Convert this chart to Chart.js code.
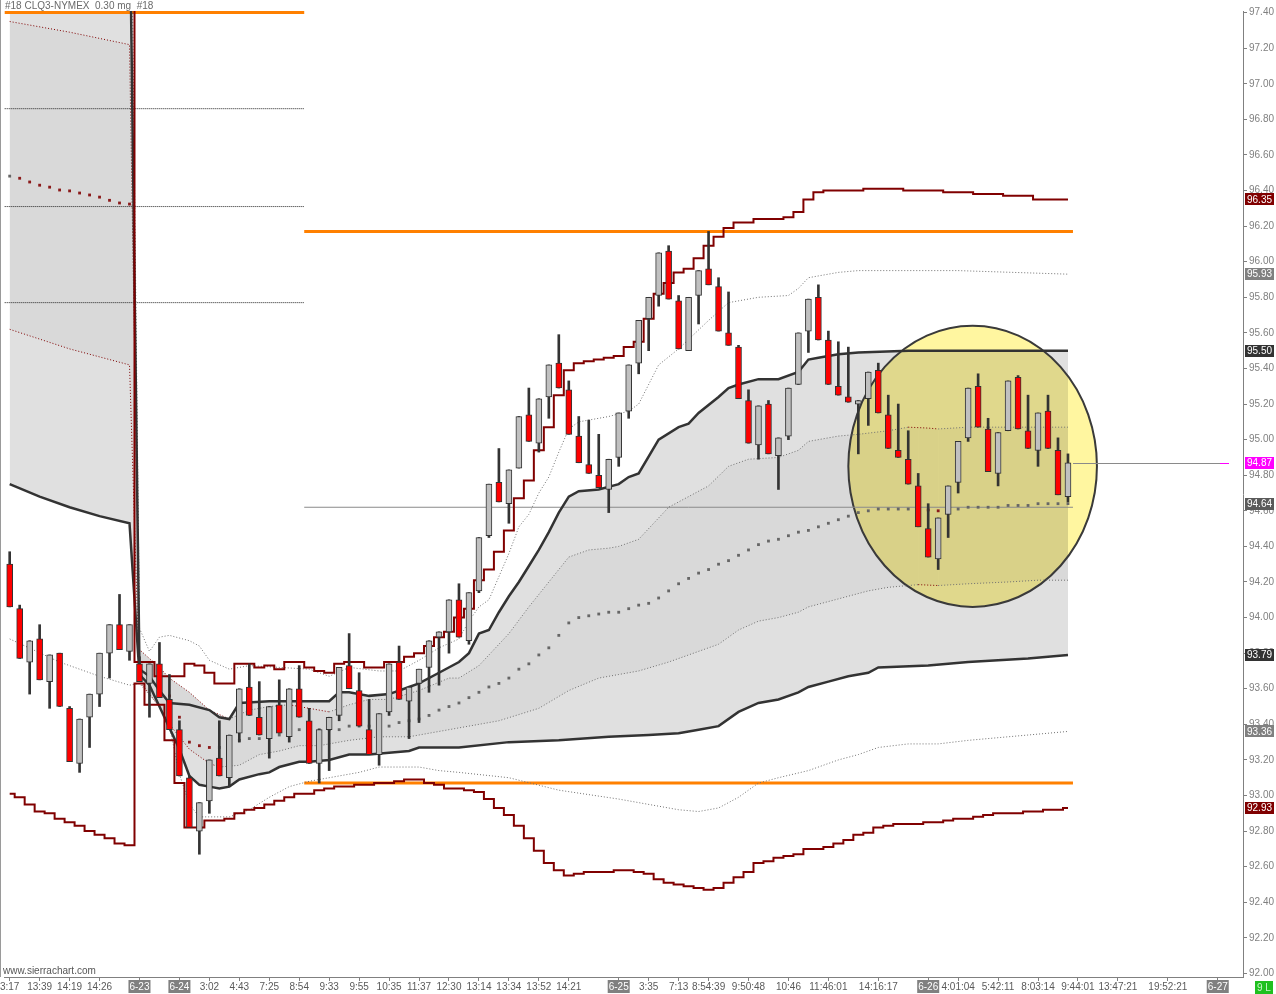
<!DOCTYPE html>
<html>
<head>
<meta charset="utf-8">
<script src="https://cdn.jsdelivr.net/npm/chart.js@4.4.1/dist/chart.umd.min.js"></script>
<style>
  html, body { margin: 0; padding: 0; background: #fff; }
  #wrap { width: 1276px; height: 994px; }
</style>
</head>
<body>
<div id="wrap"><canvas id="chart" width="1276" height="994"></canvas></div>
<script>
// CLQ3 0.30 min bars, index = bar number
const opens = [
  94.30, 94.05, 93.75, 93.88, 93.64, 93.80, 93.49, 93.18, 93.44, 93.57,
  93.80, 93.96, 93.81, 93.74, 93.63, 93.74, 93.54, 93.37, 93.10, 92.80,
  92.97, 93.21, 93.10, 93.35, 93.61, 93.44, 93.32, 93.51, 93.33, 93.60,
  93.42, 93.18, 93.37, 93.45, 93.73, 93.59, 93.37, 93.23, 93.47, 93.75,
  93.53, 93.63, 93.72, 93.89, 93.92, 94.10, 93.87, 94.15, 94.46, 94.76,
  94.64, 94.84, 95.14, 94.98, 95.24, 95.43, 95.28, 95.02, 94.86, 94.80,
  94.72, 94.90, 95.16, 95.43, 95.68, 95.81, 96.06, 95.78, 95.50, 95.81,
  95.96, 95.86, 95.60, 95.52, 95.22, 94.97, 95.20, 94.91, 95.02, 95.31,
  95.61, 95.80, 95.56, 95.30, 95.24, 95.20, 95.23, 95.39, 95.14, 94.94,
  94.89, 94.74, 94.50, 94.33, 94.58, 94.76, 95.01, 95.30, 95.06, 94.81,
  95.05, 95.35, 95.05, 94.94, 95.16, 94.94, 94.68
];
const highs = [
  94.37, 94.07, 93.87, 93.96, 93.79, 93.80, 93.50, 93.43, 93.57, 93.80,
  93.96, 94.13, 93.96, 93.78, 93.74, 93.86, 93.68, 93.42, 93.11, 92.96,
  93.20, 93.42, 93.34, 93.60, 93.74, 93.64, 93.50, 93.65, 93.60, 93.73,
  93.49, 93.37, 93.44, 93.72, 93.91, 93.69, 93.54, 93.46, 93.74, 93.84,
  93.61, 93.71, 93.87, 93.92, 94.10, 94.19, 94.14, 94.45, 94.75, 94.95,
  94.83, 95.13, 95.29, 95.23, 95.42, 95.59, 95.33, 95.13, 95.11, 95.03,
  94.89, 95.15, 95.42, 95.67, 95.80, 96.05, 96.09, 95.81, 95.80, 95.95,
  96.17, 95.91, 95.83, 95.53, 95.28, 95.19, 95.22, 95.01, 95.29, 95.60,
  95.79, 95.87, 95.61, 95.55, 95.52, 95.22, 95.38, 95.43, 95.25, 95.20,
  95.05, 94.81, 94.64, 94.56, 94.74, 94.99, 95.29, 95.37, 95.12, 95.04,
  95.33, 95.36, 95.25, 95.15, 95.25, 95.01, 94.92
];
const lows = [
  94.06, 93.77, 93.57, 93.65, 93.49, 93.50, 93.19, 93.13, 93.27, 93.50,
  93.66, 93.82, 93.76, 93.64, 93.44, 93.55, 93.37, 93.11, 92.82, 92.67,
  92.90, 93.11, 93.05, 93.30, 93.45, 93.34, 93.21, 93.35, 93.30, 93.44,
  93.18, 93.07, 93.14, 93.42, 93.60, 93.39, 93.23, 93.17, 93.45, 93.54,
  93.32, 93.41, 93.58, 93.62, 93.80, 93.89, 93.85, 94.14, 94.45, 94.65,
  94.53, 94.84, 94.99, 94.93, 95.12, 95.29, 95.03, 94.87, 94.81, 94.73,
  94.59, 94.85, 95.12, 95.37, 95.50, 95.75, 95.79, 95.51, 95.50, 95.65,
  95.87, 95.61, 95.53, 95.23, 94.98, 94.89, 94.92, 94.72, 95.00, 95.31,
  95.49, 95.56, 95.31, 95.25, 95.21, 94.92, 95.08, 95.15, 94.95, 94.90,
  94.75, 94.51, 94.34, 94.27, 94.45, 94.70, 94.99, 95.07, 94.82, 94.74,
  95.05, 95.06, 94.95, 94.85, 94.95, 94.69, 94.65
];
const closes = [
  94.06, 93.77, 93.87, 93.65, 93.79, 93.50, 93.19, 93.43, 93.57, 93.80,
  93.96, 93.82, 93.96, 93.64, 93.74, 93.55, 93.37, 93.11, 92.82, 92.96,
  93.20, 93.11, 93.34, 93.60, 93.45, 93.34, 93.50, 93.35, 93.60, 93.44,
  93.18, 93.37, 93.44, 93.72, 93.60, 93.39, 93.23, 93.46, 93.74, 93.54,
  93.61, 93.71, 93.87, 93.92, 94.10, 93.89, 94.14, 94.45, 94.75, 94.65,
  94.83, 95.13, 94.99, 95.23, 95.42, 95.29, 95.03, 94.87, 94.81, 94.73,
  94.89, 95.15, 95.42, 95.67, 95.80, 96.05, 95.79, 95.51, 95.80, 95.95,
  95.87, 95.61, 95.53, 95.23, 94.98, 95.19, 94.92, 95.01, 95.29, 95.60,
  95.79, 95.56, 95.31, 95.25, 95.21, 95.22, 95.38, 95.15, 94.95, 94.90,
  94.75, 94.51, 94.34, 94.56, 94.74, 94.99, 95.29, 95.07, 94.82, 95.04,
  95.33, 95.06, 94.95, 95.15, 94.95, 94.69, 94.87
];

// session VWAP (dots)
const vwap = [
  96.481, 96.469, 96.448, 96.430, 96.419, 96.403, 96.398, 96.386, 96.375, 96.363,
  96.345, 96.330, 96.324, 93.70, 93.68, 93.64, 93.56, 93.44, 93.30, 93.28,
  93.27, 93.27, 93.29, 93.31, 93.32, 93.32, 93.33, 93.34, 93.36, 93.37,
  93.37, 93.37, 93.37, 93.37, 93.39, 93.39, 93.39, 93.39, 93.39, 93.41,
  93.42, 93.43, 93.45, 93.48, 93.50, 93.52, 93.55, 93.58, 93.61, 93.63,
  93.66, 93.71, 93.74, 93.79, 93.83, 93.90, 93.97, 94.00, 94.01, 94.02,
  94.03, 94.03, 94.05, 94.07, 94.08, 94.11, 94.15, 94.19, 94.22, 94.25,
  94.27, 94.30, 94.32, 94.35, 94.38, 94.41, 94.43, 94.44, 94.46, 94.48,
  94.49, 94.51, 94.53, 94.55, 94.57, 94.59, 94.60, 94.61, 94.61, 94.61,
  94.61, 94.61, 94.605, 94.60, 94.60, 94.61, 94.62, 94.62, 94.62, 94.62,
  94.63, 94.63, 94.63, 94.64, 94.64, 94.64, 94.64
];

// stepped high / low channel
const redUpper = [
  97.90, 97.90, 97.90, 97.90, 97.90, 97.90, 97.90, 97.90, 97.90, 97.90,
  97.90, 97.90, 97.90, 93.75, 93.75, 93.67, 93.67, 93.67, 93.74, 93.73,
  93.69, 93.63, 93.63, 93.74, 93.74, 93.72, 93.73, 93.71, 93.75, 93.75,
  93.72, 93.70, 93.69, 93.74, 93.75, 93.75, 93.72, 93.72, 93.75, 93.75,
  93.78, 93.80, 93.84, 93.89, 93.92, 94.00, 94.05, 94.21, 94.27, 94.37,
  94.49, 94.67, 94.77, 94.94, 95.07, 95.25, 95.39, 95.43, 95.44, 95.45,
  95.46, 95.47, 95.52, 95.55, 95.68, 95.82, 95.88, 95.94, 95.96, 96.02,
  96.09, 96.14, 96.19, 96.22, 96.22, 96.24, 96.24, 96.24, 96.25, 96.28,
  96.35, 96.39, 96.40, 96.40, 96.40, 96.40, 96.41, 96.41, 96.41, 96.41,
  96.40, 96.40, 96.40, 96.40, 96.39, 96.39, 96.39, 96.38, 96.38, 96.38,
  96.37, 96.37, 96.37, 96.35, 96.35, 96.35, 96.35
];
const redLower = [
  93.01, 92.99, 92.95, 92.91, 92.90, 92.87, 92.85, 92.83, 92.80, 92.78,
  92.76, 92.73, 92.72, 93.63, 93.51, 93.51, 93.31, 93.07, 92.82, 92.82,
  92.86, 92.86, 92.87, 92.90, 92.92, 92.93, 92.95, 92.97, 92.99, 93.01,
  93.01, 93.03, 93.04, 93.05, 93.05, 93.06, 93.06, 93.07, 93.07, 93.08,
  93.09, 93.09, 93.07, 93.06, 93.04, 93.04, 93.03, 93.02, 92.98, 92.93,
  92.89, 92.83, 92.76, 92.69, 92.62, 92.58, 92.55, 92.56, 92.57, 92.57,
  92.57, 92.58, 92.58, 92.57, 92.56, 92.53, 92.51, 92.50, 92.49, 92.48,
  92.47, 92.48, 92.51, 92.54, 92.57, 92.62, 92.63, 92.65, 92.66, 92.67,
  92.70, 92.70, 92.71, 92.73, 92.75, 92.78, 92.79, 92.82, 92.83, 92.84,
  92.84, 92.84, 92.85, 92.85, 92.86, 92.87, 92.87, 92.88, 92.89, 92.90,
  92.90, 92.90, 92.91, 92.91, 92.92, 92.92, 92.93
];

// VWAP bands, [bar, price]
const upperOuter = [[0, 99.0], [12, 99.0], [13, 93.94], [14, 93.81], [15, 93.89], [16, 93.90], [18, 93.87],
  [19, 93.84], [20, 93.76], [22, 93.71], [24, 93.73], [27, 93.72], [30, 93.71], [32, 93.67], [34, 93.72],
  [37, 93.70], [39, 93.70], [41, 93.76], [43, 93.83], [45, 93.88], [46, 93.98], [47, 94.06], [48, 94.10],
  [50, 94.36], [51, 94.51], [52, 94.58], [53, 94.70], [54, 94.79], [55, 94.93], [56, 95.06], [57, 95.10],
  [60, 95.13], [62, 95.16], [63, 95.20], [65, 95.42], [67, 95.51], [70, 95.67], [72, 95.77], [75, 95.80],
  [78, 95.81], [79, 95.85], [80, 95.91], [83, 95.94], [85, 95.95], [95, 95.95], [106, 95.93]];
const upperBand = [[0, 98.10], [12, 98.10], [13, 93.71], [14, 93.67], [15, 93.59], [16, 93.52], [18, 93.51],
  [20, 93.48], [21, 93.44], [22, 93.43], [23, 93.52], [26, 93.53], [29, 93.53], [32, 93.53], [33, 93.58],
  [34, 93.58], [36, 93.56], [38, 93.57], [40, 93.61], [41, 93.63], [43, 93.69], [45, 93.75], [46, 93.80],
  [47, 93.91], [48, 93.93], [49, 94.03], [50, 94.12], [51, 94.20], [52, 94.29], [53, 94.38], [54, 94.48],
  [55, 94.59], [56, 94.68], [57, 94.71], [59, 94.72], [61, 94.75], [62, 94.79], [63, 94.81], [65, 95.00],
  [67, 95.07], [68, 95.09], [69, 95.15], [71, 95.24], [72, 95.29], [73, 95.31], [75, 95.34], [77, 95.34],
  [79, 95.38], [80, 95.45], [81, 95.46], [83, 95.48], [85, 95.49], [90, 95.50], [106, 95.50]];
const upperInner = [[0, 97.35], [6, 97.29], [12, 97.22], [13, 93.82], [15, 93.72], [16, 93.66], [18, 93.58],
  [20, 93.48], [22, 93.43], [24, 93.48], [26, 93.50], [28, 93.51], [30, 93.49], [32, 93.47], [34, 93.51],
  [36, 93.54], [38, 93.54], [41, 93.59], [44, 93.66], [45, 93.66], [47, 93.73], [50, 93.91], [52, 94.06],
  [54, 94.20], [56, 94.34], [58, 94.38], [60, 94.39], [61, 94.40], [63, 94.44], [66, 94.62], [70, 94.74],
  [72, 94.85], [74, 94.89], [77, 94.90], [79, 94.94], [80, 94.99], [83, 95.02], [85, 95.03], [88, 95.05],
  [90, 95.07], [92, 95.065], [93, 95.06], [96, 95.07], [106, 95.07]];
const lowerInner = [[0, 95.62], [6, 95.51], [12, 95.42], [13, 93.64], [15, 93.50], [16, 93.40], [18, 93.26],
  [20, 93.18], [21, 93.16], [23, 93.17], [25, 93.23], [27, 93.25], [29, 93.28], [31, 93.28], [34, 93.31],
  [37, 93.33], [40, 93.33], [42, 93.35], [45, 93.38], [49, 93.42], [53, 93.49], [56, 93.59], [59, 93.66],
  [61, 93.68], [63, 93.70], [66, 93.75], [69, 93.81], [71, 93.85], [73, 93.93], [75, 93.98], [77, 94.00],
  [79, 94.03], [80, 94.06], [82, 94.09], [84, 94.12], [86, 94.15], [88, 94.17], [91, 94.185], [93, 94.18],
  [96, 94.19], [100, 94.20], [103, 94.21], [106, 94.21]];
const lowerBand = [[0, 94.75], [3, 94.68], [6, 94.62], [9, 94.57], [12, 94.53], [13, 93.68], [14, 93.62],
  [15, 93.50], [16, 93.38], [17, 93.26], [18, 93.11], [19, 93.06], [20, 93.05], [21, 93.04], [22, 93.05],
  [23, 93.09], [25, 93.12], [26, 93.13], [27, 93.16], [29, 93.19], [30, 93.19], [32, 93.20], [34, 93.23],
  [36, 93.23], [38, 93.24], [40, 93.25], [41, 93.27], [45, 93.27], [50, 93.30], [55, 93.31], [60, 93.33],
  [64, 93.34], [67, 93.35], [69, 93.37], [71, 93.39], [73, 93.47], [75, 93.52], [77, 93.54], [79, 93.58],
  [80, 93.61], [82, 93.64], [84, 93.67], [86, 93.69], [87, 93.72], [92, 93.73], [96, 93.75], [99, 93.76],
  [102, 93.77], [106, 93.79]];
const lowerOuter = [[0, 93.88], [5, 93.75], [9, 93.67], [12, 93.62], [13, 93.63], [15, 93.50], [16, 93.39],
  [17, 93.12], [18, 92.95], [19, 92.88], [22, 92.88], [24, 92.92], [26, 92.99], [28, 93.05], [30, 93.08],
  [33, 93.11], [35, 93.13], [37, 93.16], [41, 93.16], [43, 93.14], [45, 93.13], [50, 93.10], [55, 93.03],
  [61, 92.98], [67, 92.92], [69, 92.91], [71, 92.93], [73, 92.99], [75, 93.07], [77, 93.10], [80, 93.14],
  [83, 93.20], [85, 93.23], [87, 93.27], [90, 93.29], [93, 93.29], [96, 93.31], [100, 93.33], [104, 93.35],
  [106, 93.36]];

// horizontal levels: [price, fromBar, toBar]
const orangeLevels = [[97.40, -0.5, 29.5], [96.17, 29.5, 106.5], [93.07, 29.5, 106.5]];
const pivotLevels = [[96.86, -0.5, 29.5], [96.31, -0.5, 29.5], [95.77, -0.5, 29.5]];
const refLevel = [94.62, 29.5, 106.5];

// highlighted zone (drawn ellipse): bars and prices of its bounding box
const zone = { fromBar: 84.0, toBar: 108.9, top: 95.64, bottom: 94.06 };

const priceTicks = [92.00, 92.20, 92.40, 92.60, 92.80, 93.00, 93.20, 93.40, 93.60, 93.80, 94.00, 94.20,
  94.40, 94.60, 94.80, 95.00, 95.20, 95.40, 95.60, 95.80, 96.00, 96.20, 96.40, 96.60, 96.80, 97.00, 97.20, 97.40];
const xTickBars = [0, 3, 6, 9, 13, 17, 20, 23, 26, 29, 32, 35, 38, 41, 44, 47, 50, 53, 56, 61, 64, 67, 70,
  74, 78, 82, 87, 92, 95, 99, 103, 107, 111, 116, 121];
const xTickLabels = ["3:17", "13:39", "14:19", "14:26", "6-23", "6-24", "3:02", "4:43", "7:25", "8:54", "9:33",
  "9:55", "10:35", "11:37", "12:30", "13:14", "13:34", "13:52", "14:21", "6-25", "3:35", "7:13", "8:54:39",
  "9:50:48", "10:46", "11:46:01", "14:16:17", "6-26", "4:01:04", "5:42:11", "8:03:14", "9:44:01", "13:47:21",
  "19:52:21", "6-27"];

const DARK = "#333333", DARK_RED = "#800000", DOT_GREY = "#707070";
const FONT = "'Liberation Sans Narrow', 'Liberation Sans', Arial, sans-serif";
Chart.defaults.font.family = FONT;
Chart.defaults.font.size = 10;

const bars = opens.map((_, i) => i);
const pts = (pairs) => pairs.map(([x, y]) => ({ x, y }));
const full = (vals) => vals.map((y, i) => ({ x: i, y }));
const slopeColor = (c) => (c.p1.parsed.y < c.p0.parsed.y ? DARK_RED : DOT_GREY);
const isDate = (s) => /^\d-\d\d$/.test(s);

const datasets = [];
function add(ds) {
	datasets.push(Object.assign({ type: "line", pointRadius: 0, fill: false }, ds));
	return datasets.length - 1;
}

// band lines
const iLower = add({ data: pts(lowerBand), borderColor: DARK, borderWidth: 2.5, order: 7 });
const iLowerIn = add({ data: pts(lowerInner), borderColor: DOT_GREY, borderWidth: 1, borderDash: [1, 2], segment: { borderColor: slopeColor }, order: 8 });
add({ data: pts(upperBand), borderColor: DARK, borderWidth: 2.5, order: 7 });
add({ data: pts(upperInner), borderColor: DOT_GREY, borderWidth: 1, borderDash: [1, 2], segment: { borderColor: slopeColor }, order: 8 });
add({ data: pts(upperOuter), borderColor: DOT_GREY, borderWidth: 1, borderDash: [1, 2], order: 8 });
add({ data: pts(lowerOuter), borderColor: DOT_GREY, borderWidth: 1, borderDash: [1, 2], order: 8 });

// band fills (drawn first)
add({ data: pts(upperBand), borderWidth: 0, fill: { target: iLower, above: "#e0e0e0", below: "#e0e0e0" }, order: 31 });
add({ data: pts(upperInner), borderWidth: 0, fill: { target: iLowerIn, above: "#d9d9d9", below: "#d9d9d9" }, order: 30 });

// levels
orangeLevels.forEach(([p, a, b]) => add({ data: [{ x: a, y: p }, { x: b, y: p }], borderColor: "#ff8000", borderWidth: 3, order: 9 }));
pivotLevels.forEach(([p, a, b]) => add({ data: [{ x: a, y: p }, { x: b, y: p }], borderColor: "#222", borderWidth: 1, borderDash: [1, 1], order: 9 }));
add({ data: [{ x: refLevel[1], y: refLevel[0] }, { x: refLevel[2], y: refLevel[0] }], borderColor: "#8a8a8a", borderWidth: 1, order: 9 });

// stepped channel
add({ data: full(redUpper), stepped: "middle", borderColor: DARK_RED, borderWidth: 2, order: 6 });
add({ data: full(redLower), stepped: "middle", borderColor: DARK_RED, borderWidth: 2, order: 6 });

// vwap dots
add({
	data: full(vwap), showLine: false, pointStyle: "rect", pointRadius: 2, pointBorderWidth: 0,
	pointBackgroundColor: vwap.map((v, i) => (i > 0 && v < vwap[i - 1] ? "#8b1a1a" : "#666666")), order: 3,
});

// candles
add({ type: "bar", data: bars.map((i) => ({ x: i, y: [lows[i], highs[i]] })), backgroundColor: DARK, borderWidth: 0, barThickness: 2, grouped: false, order: 2 });
add({
	type: "bar", data: bars.map((i) => ({ x: i, y: [opens[i], closes[i]] })),
	backgroundColor: bars.map((i) => (closes[i] >= opens[i] ? "#c0c0c0" : "#ff0000")),
	borderColor: DARK, borderWidth: 1, borderSkipped: false, barThickness: 6, minBarLength: 2, grouped: false, order: 1,
});

const decor = {
	id: "decor",
	beforeDatasetsDraw(chart) { chart.$zoneDone = false; },
	beforeDatasetDraw(chart, args) {
		if (chart.$zoneDone) return;
		if ((chart.data.datasets[args.index].order || 0) >= 30) return;
		chart.$zoneDone = true;
		const { ctx, scales: { x, y } } = chart;
		const x1 = x.getPixelForValue(zone.fromBar), x2 = x.getPixelForValue(zone.toBar);
		const y1 = y.getPixelForValue(zone.top), y2 = y.getPixelForValue(zone.bottom);
		ctx.save();
		ctx.beginPath();
		ctx.ellipse((x1 + x2) / 2, (y1 + y2) / 2, (x2 - x1) / 2, (y2 - y1) / 2, 0, 0, Math.PI * 2);
		ctx.globalCompositeOperation = "multiply";
		ctx.fillStyle = "rgb(255, 246, 160)";
		ctx.fill();
		ctx.globalCompositeOperation = "source-over";
		ctx.lineWidth = 2;
		ctx.strokeStyle = "#3a3a3a";
		ctx.stroke();
		ctx.restore();
	},
	afterDraw(chart) {
		const { ctx, chartArea: ca, scales: { x, y } } = chart;
		ctx.save();
		// left border
		ctx.fillStyle = "#9a9a9a";
		ctx.fillRect(0, 0, 1, ca.bottom);
		// last price line
		const last = closes[closes.length - 1];
		const ly = Math.round(y.getPixelForValue(last)) + 0.5;
		const lx = x.getPixelForValue(bars.length - 0.5);
		ctx.strokeStyle = "#8a8a8a";
		ctx.lineWidth = 1;
		ctx.beginPath(); ctx.moveTo(lx, ly); ctx.lineTo(ca.right - 23, ly); ctx.stroke();
		ctx.strokeStyle = "#ff00ff";
		ctx.beginPath(); ctx.moveTo(ca.right - 23, ly); ctx.lineTo(ca.right - 14, ly); ctx.stroke();
		// value tags on the price axis
		const tags = [
			[redUpper[redUpper.length - 1], "#800000"],
			[upperOuter[upperOuter.length - 1][1], "#808080"],
			[upperBand[upperBand.length - 1][1], "#333333"],
			[last, "#ff00ff"],
			[vwap[vwap.length - 1], "#5a5a5a"],
			[lowerBand[lowerBand.length - 1][1], "#333333"],
			[lowerOuter[lowerOuter.length - 1][1], "#808080"],
			[redLower[redLower.length - 1], "#800000"],
		];
		ctx.font = "10px " + FONT;
		ctx.textBaseline = "middle";
		tags.forEach(([v, bg]) => {
			const ty = y.getPixelForValue(v);
			ctx.fillStyle = bg;
			ctx.fillRect(ca.right + 2, Math.round(ty - 6), 29, 12);
			ctx.fillStyle = "#ffffff";
			ctx.fillText(v.toFixed(2), ca.right + 4, ty + 0.5);
		});
		// header / footer texts
		ctx.fillStyle = "#6a6a6a";
		ctx.textBaseline = "top";
		ctx.fillText("#18 CLQ3-NYMEX  0.30 mg  #18", 5, 1);
		ctx.fillStyle = "#555555";
		ctx.textBaseline = "alphabetic";
		ctx.fillText("www.sierrachart.com", 3, 974);
		// status box
		ctx.fillStyle = "#1fc01f";
		ctx.fillRect(1255, 981, 18, 13);
		ctx.fillStyle = "#c8f5c8";
		ctx.textBaseline = "middle";
		ctx.fillText("9 L", 1257, 988);
		ctx.restore();
	},
};

new Chart(document.getElementById("chart"), {
	type: "bar",
	data: { datasets },
	plugins: [decor],
	options: {
		responsive: false,
		animation: false,
		events: [],
		layout: { padding: { left: 2, top: 11, right: 0, bottom: 0 } },
		plugins: { legend: { display: false }, tooltip: { enabled: false } },
		scales: {
			x: {
				type: "linear",
				min: -0.57,
				max: 123.53,
				offset: false,
				grid: { drawOnChartArea: false, offset: false, tickLength: 4, color: "#808080" },
				border: { color: "#808080" },
				afterBuildTicks: (s) => { s.ticks = xTickBars.map((v) => ({ value: v })); },
				afterFit: (s) => { s.height = 17; s.paddingLeft = 0; s.paddingRight = 0; },
				ticks: {
					autoSkip: false,
					maxRotation: 0,
					padding: 0,
					callback: (v) => { const k = xTickBars.indexOf(v); return k >= 0 ? xTickLabels[k] : ""; },
					color: (c) => (isDate(String(c.tick && c.tick.label)) ? "#ffffff" : "#5a5a5a"),
					showLabelBackdrop: (c) => isDate(String(c.tick && c.tick.label)),
					backdropColor: "#808080",
					backdropPadding: { top: 1, bottom: 0, left: 1, right: 1 },
				},
			},
			y: {
				type: "linear",
				position: "right",
				min: 91.98,
				max: 97.409,
				grid: { drawOnChartArea: false, tickLength: 4, color: "#808080" },
				border: { color: "#808080" },
				afterBuildTicks: (s) => { s.ticks = priceTicks.map((v) => ({ value: v })); },
				afterFit: (s) => { s.width = 33; s.paddingTop = 0; s.paddingBottom = 0; },
				ticks: { autoSkip: false, padding: 2, color: "#808080", callback: (v) => v.toFixed(2) },
			},
		},
	},
});
</script>
</body>
</html>
